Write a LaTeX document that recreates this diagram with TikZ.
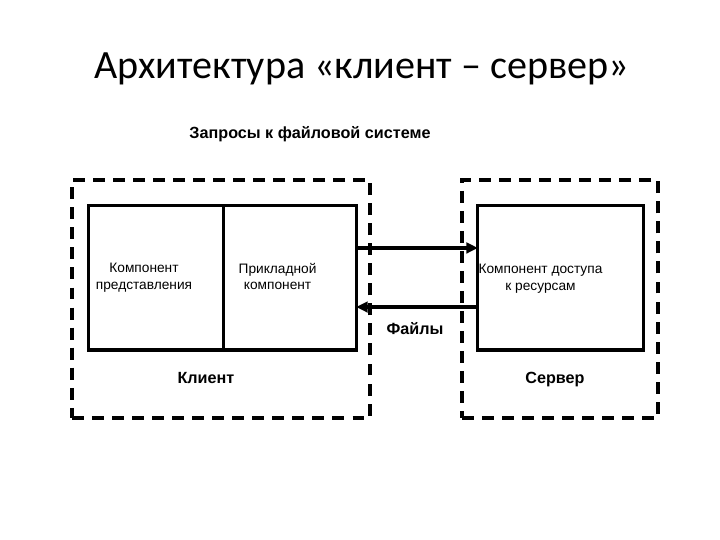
\documentclass[tikz,border=0pt]{standalone}
\usepackage{fontspec}
\setmainfont{Carlito}
\newfontfamily\arialfont{Liberation Sans}
\usetikzlibrary{positioning,arrows.meta}

\tikzset{
  frame/.style={draw, line width=1pt, dash pattern=on 3.4pt off 2.3pt, minimum height=2.38cm},
  part/.style={draw, line width=0.85pt, minimum height=1.44cm, inner sep=0pt, outer sep=0pt},
  small/.style={font=\arialfont\fontsize{3.9}{4.6}\selectfont, align=center, anchor=north},
  big/.style={font=\arialfont\bfseries\fontsize{4.6}{5.5}\selectfont, anchor=base},
  arr/.style={line width=0.9pt, -{Triangle[length=3.3pt,width=3pt]}}
}

\begin{document}
\begin{tikzpicture}[x=0.01cm, y=-0.01cm]
    \useasboundingbox (0,0) rectangle (720,540);
    \node[font=\fontsize{11.4}{13}\selectfont, anchor=base] (title) at (362,79) {Архитектура «клиент – сервер»};

    % client and server frames
    \node[frame, minimum width=2.98cm] (clientframe) at (221,299) {};
    \node[frame, minimum width=1.96cm] (serverframe) at (560,299) {};

    % components
    \node[part, minimum width=1.34cm] (pres) at (156,278) {};
    \node[part, minimum width=1.33cm, right=0pt of pres] (app) {};
    \node[part, minimum width=1.65cm] (res) at (560.5,278) {};
    \draw[line width=1.2pt] (pres.south west) -- (app.south east);
    \draw[line width=1.2pt] (res.south west) -- (res.south east);

    \node[small] at ([xshift=-0.12cm, yshift=0.27cm]pres.center) {Компонент\\представления};
    \node[small] at ([xshift=-0.12cm, yshift=0.27cm]app.center) {Прикладной\\компонент};
    \node[small] at ([xshift=-0.2cm, yshift=0.26cm]res.center) {Компонент доступа\\к ресурсам};

    % requests and files
    \draw[arr] ([yshift=0.3cm]app.east) -- ([yshift=0.3cm]res.west);
    \draw[arr] ([yshift=-0.29cm]res.west) -- ([yshift=-0.29cm]app.east);

    \node[big] (req) at (310,139) {Запросы к файловой системе};
    \node[big] (files) at (415,335) {Файлы};
    \node[big] (client) at (206,384) {Клиент};
    \node[big] (server) at (555,384) {Сервер};
\end{tikzpicture}
\end{document}
